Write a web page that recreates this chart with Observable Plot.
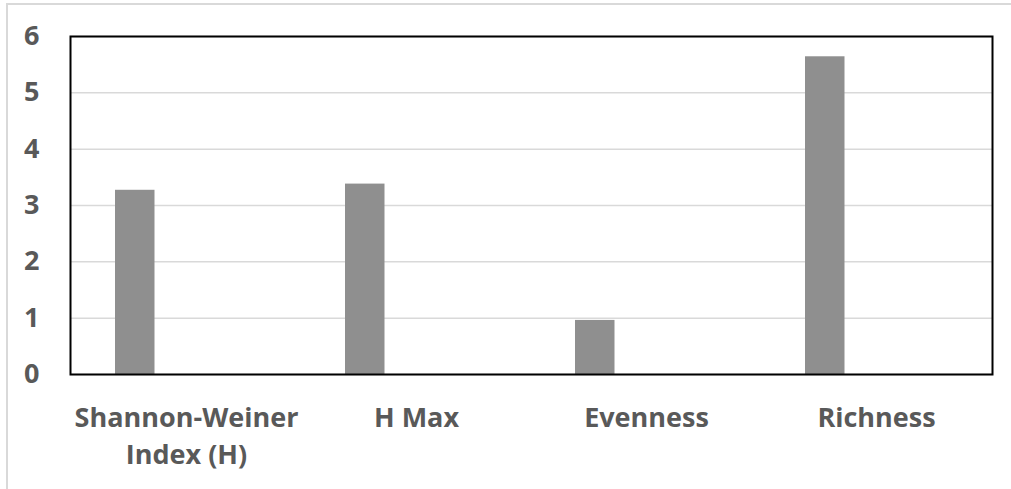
<!DOCTYPE html>
<html>
<head>
<meta charset="utf-8">
<script src="https://cdn.jsdelivr.net/npm/d3@7"></script>
<script src="https://cdn.jsdelivr.net/npm/@observablehq/plot@0.6"></script>
<style>
  html, body { margin: 0; padding: 0; background: #fff; }
  #wrap { position: relative; width: 1011px; height: 489px; overflow: hidden; }
  #border { position: absolute; left: 6px; top: 3px; width: 1100px; height: 600px;
            border-left: 2px solid #d9d9d9; border-top: 2px solid #d9d9d9; box-sizing: border-box; }
  #chart { position: absolute; left: 0; top: 0; }
</style>
</head>
<body>
<div id="wrap"><div id="border"></div><div id="chart"></div></div>
<script>
const categories = ["Shannon-Weiner\nIndex (H)", "H Max", "Evenness", "Richness"];
const values = [3.27, 3.38, 0.96, 5.64];
const yTicks = [0, 1, 2, 3, 4, 5, 6];

const data = categories.map((c, i) => ({category: c, value: values[i]}));

const textStyle = {fontSize: 27, fontWeight: 700, fill: "#595959", fontFamily: "Open Sans"};

const chart = Plot.plot({
  width: 1011,
  height: 489,
  marginLeft: 70,
  marginRight: 19,
  marginTop: 36,
  marginBottom: 115,
  style: {fontFamily: "Open Sans", background: "transparent", overflow: "visible"},
  x: {domain: categories, padding: 0, label: null},
  y: {domain: [0, 6], label: null},
  marks: [
    Plot.gridY(yTicks, {stroke: "#d9d9d9", strokeOpacity: 1, strokeWidth: 1.5}),
    Plot.barY(data, {x: "category", y: "value", fill: "#8f8f8f", insetLeft: 44, insetRight: 146.5}),
    Plot.frame({stroke: "#000", strokeWidth: 2}),
    Plot.axisX({tickSize: 0, tickPadding: 26, lineHeight: 1.38, ...textStyle}),
    Plot.axisY(yTicks, {tickSize: 0, tickPadding: 31, tickFormat: "d", ...textStyle})
  ]
});
document.getElementById("chart").appendChild(chart);
</script>
</body>
</html>
